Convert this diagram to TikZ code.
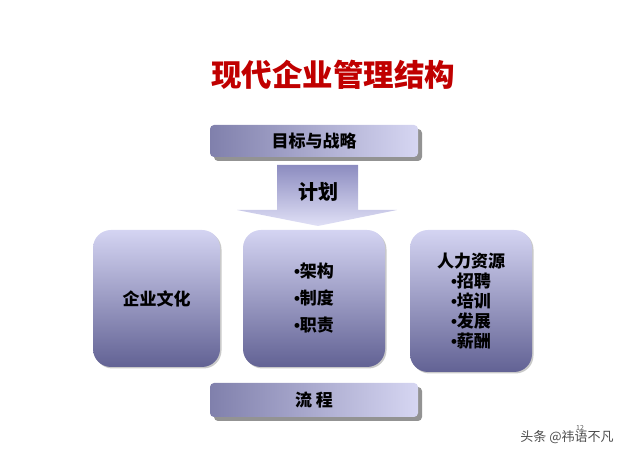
\documentclass[tikz,border=0pt]{standalone}
\usepackage{fontspec}
\setmainfont{Noto Sans CJK SC}
\newfontfamily\latinfont{Liberation Sans}
\usetikzlibrary{shadows}
\definecolor{titlered}{RGB}{192,0,0}
\definecolor{barleft}{RGB}{128,128,172}
\definecolor{barright}{RGB}{214,214,242}
\definecolor{blocktop}{RGB}{212,212,242}
\definecolor{blockbot}{RGB}{98,98,148}
\definecolor{arrowtop}{RGB}{140,140,192}
\definecolor{arrowbot}{RGB}{224,224,246}
\newcommand\dotitem{{\latinfont\bfseries •}}
\tikzset{
  bar/.style={rounded corners=4pt, minimum width=208pt, minimum height=32pt,
    left color=barleft, right color=barright,
    drop shadow={shadow xshift=4pt, shadow yshift=-4pt, fill=gray!85, opacity=1},
    font=\bfseries\fontsize{17}{20}\selectfont},
  block/.style={rounded corners=18pt, top color=blocktop, bottom color=blockbot,
    align=center, font=\bfseries\fontsize{17}{20}\selectfont,
    drop shadow={shadow xshift=1.5pt, shadow yshift=-1.5pt, fill=gray!60, opacity=0.7}}
}
\begin{document}
\begin{tikzpicture}[x=1pt,y=1pt]
  \useasboundingbox (0,0) rectangle (640,460);
  % title
  \node[text=titlered, font=\bfseries\fontsize{30.5}{33}\selectfont] (title) at (333,385) {现代企业管理结构};
  % top and bottom bars
  \node[bar] (goal) at (314,319) {目标与战略};
  \node[bar, minimum height=34pt] (flow) at (314,60) {流 程};
  % plan arrow
  \draw[draw=none, top color=arrowtop, bottom color=arrowbot]
    (277,295) -- (358,295) -- (358,250) -- (397,250) -- (318,234)
    -- (237,250) -- (277,250) -- cycle;
  \node[font=\bfseries\fontsize{20}{24}\selectfont] (plan) at (318,268) {计划};
  % three blocks
  \node[block, minimum width=127pt, minimum height=137pt] (culture) at (156.5,161.5) {企业文化};
  \node[block, minimum width=142pt, minimum height=137pt, font=\bfseries\fontsize{17}{27}\selectfont]
    (org) at (314,161.5) {\dotitem{}架构\\\dotitem{}制度\\\dotitem{}职责};
  \node[block, minimum width=122pt, minimum height=142pt] (hr) at (471,159)
    {人力资源\\\dotitem{}招聘\\\dotitem{}培训\\\dotitem{}发展\\\dotitem{}薪酬};
  % page number and watermark
  \node[font=\fontsize{7}{8}\selectfont, text=gray!70!black] (page) at (580,32) {12};
  \node[font=\fontsize{13}{15}\selectfont, text=gray!60!black] (mark) at (567,23) {头条 @祎语不凡};
\end{tikzpicture}
\end{document}
